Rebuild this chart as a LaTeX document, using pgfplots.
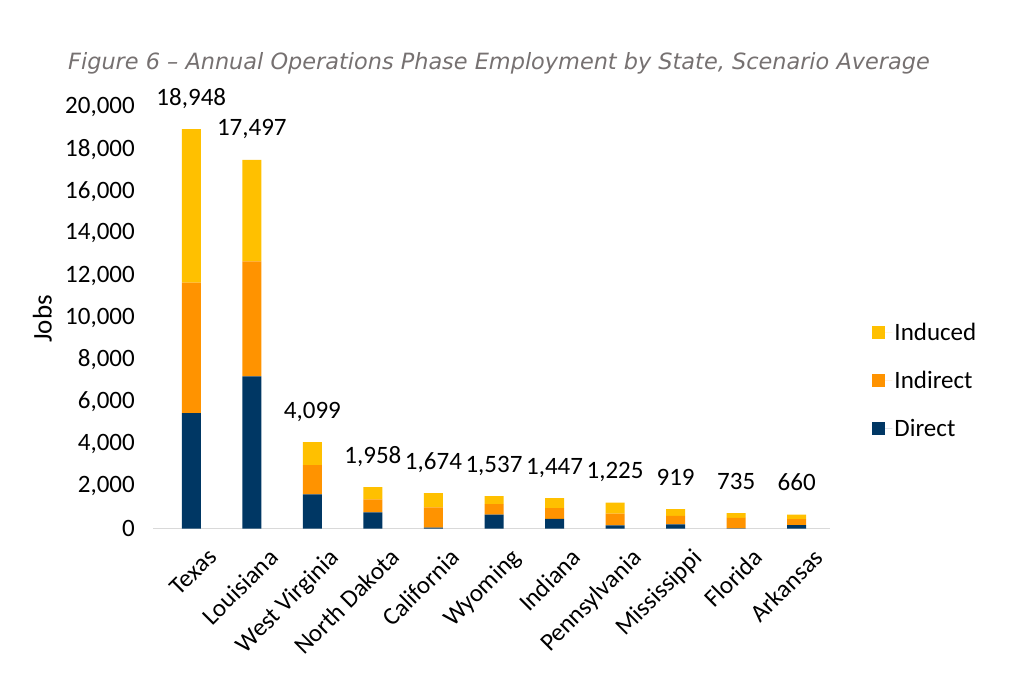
\documentclass[border=0pt]{standalone}
\usepackage{pgfplots}
\pgfplotsset{compat=1.18}
\usepackage{pgfplotstable}
\usepackage{fontspec}
\setmainfont{Carlito}
\newfontfamily\titlefont{DejaVu Sans}
\definecolor{cdirect}{HTML}{003764}
\definecolor{cindirect}{HTML}{FF9300}
\definecolor{cinduced}{HTML}{FFC000}
\definecolor{titlegray}{HTML}{767171}
\definecolor{axisgray}{HTML}{D9D9D9}

\pgfplotstableread{
x direct indirect induced top total
0 5480 6190 7278 0.01 18948
1 7220 5450 4827 0.01 17497
2 1620 1390 1089 0.01 4099
3 767 620 571 0.01 1958
4 40 968 666 0.01 1674
5 660 495 382 0.01 1537
6 460 510 477 0.01 1447
7 150 555 520 0.01 1225
8 200 400 319 0.01 919
9 5 505 225 0.01 735
10 160 285 215 0.01 660
}\datatable

\begin{document}
\begin{tikzpicture}[x=1pt,y=1pt]
\path[use as bounding box] (0,0) rectangle (1024,678);
\node[anchor=west, font=\titlefont\itshape\fontsize{22.4}{26}\selectfont, text=titlegray, inner sep=0] at (68,615) {Figure 6 – Annual Operations Phase Employment by State, Scenario Average};
\begin{axis}[
  at={(161pt,149.5pt)}, anchor=south west, scale only axis,
  width=666pt, height=421.5pt,
  ybar stacked, bar width=19pt,
  xmin=-0.5, xmax=10.5, ymin=0, ymax=20000,
  clip=false,
  font=\fontsize{25}{29}\selectfont,
  /pgf/number format/.cd, 1000 sep={,}, assume math mode=true, /pgfplots/.cd,
  xtick=data,
  xticklabels={Texas,Louisiana,West Virginia,North Dakota,California,Wyoming,Indiana,Pennsylvania,Mississippi,Florida,Arkansas},
  ytick={0,2000,...,20000},
  scaled y ticks=false,
  major tick length=0pt,
  axis x line*=bottom, axis y line*=left,
  separate axis lines,
  x axis line style={draw=axisgray, line width=1.5pt, -, shorten <=-8pt, shorten >=-3pt},
  y axis line style={draw=none},
  yticklabel style={anchor=east, inner sep=0pt, xshift=-26pt},
  xticklabel style={rotate=45, anchor=north east, inner sep=0pt, xshift=-2pt, yshift=-24pt},
  ylabel={Jobs},
  ylabel style={at={(axis description cs:-0.178,0.497)}, anchor=center, rotate=0, font=\fontsize{27}{31}\selectfont},
  legend style={draw=none, at={(axis description cs:1.068,0.493)}, anchor=north west,
    row sep=25.5pt, font=\fontsize{25}{29}\selectfont, inner sep=0pt},
  legend image code/.code={\path (0pt,0pt) -- (20pt,0pt); \fill[#1,draw=none] (0pt,-6.5pt) rectangle (13pt,6.5pt);},
  legend cell align=left,
  reverse legend,
]
\addplot+[fill=cdirect, draw=none] table[x=x,y=direct] {\datatable};
\addlegendentry{Direct}
\addplot+[fill=cindirect, draw=none] table[x=x,y=indirect] {\datatable};
\addlegendentry{Indirect}
\addplot+[fill=cinduced, draw=none] table[x=x,y=induced] {\datatable};
\addlegendentry{Induced}
\addplot+[fill=none, draw=none, forget plot, nodes near coords, point meta=explicit,
  every node near coord/.append style={anchor=base, inner sep=0pt, yshift=24pt, text=black, font=\fontsize{25}{29}\selectfont}]
  table[x=x,y=top,meta=total] {\datatable};
\end{axis}
\end{tikzpicture}
\end{document}
